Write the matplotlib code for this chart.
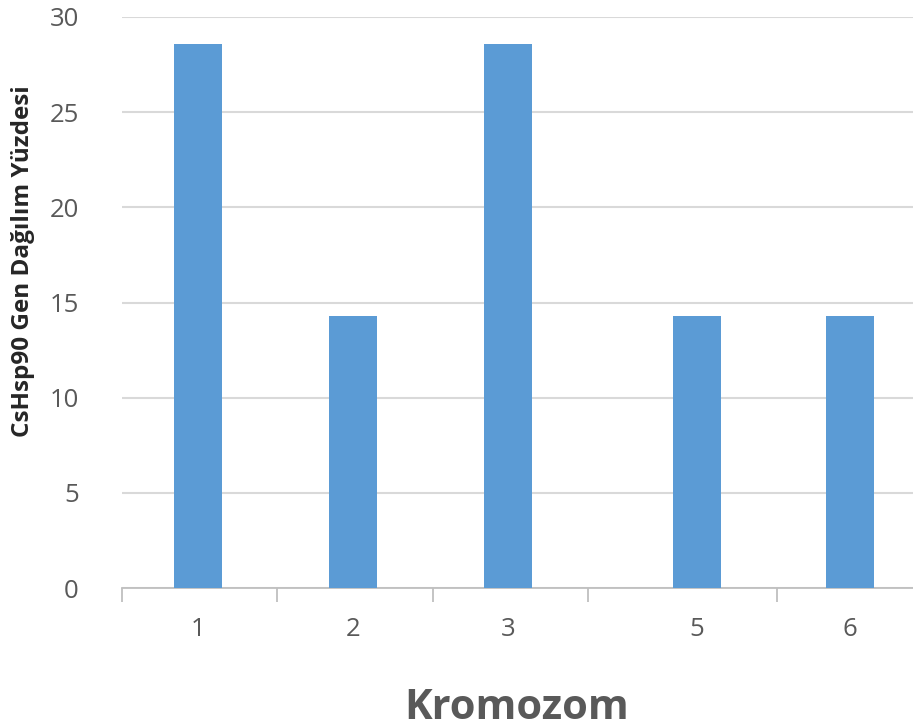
import matplotlib
matplotlib.use("Agg")
import matplotlib.pyplot as plt

# ─── Data ────────────────────────────────────────────────────────────────
chromosomes = ["1", "2", "3", "5", "6"]
percent = [28.57, 14.29, 28.57, 14.29, 14.29]
y_ticks = [0, 5, 10, 15, 20, 25, 30]

# ─── Layout (category slots as in the reference, slot 5 a bit wider) ────
x_pos = [0, 1.0, 2.0, 3.22, 4.21]
slot_edges = [-0.49, 0.51, 1.52, 2.52, 3.74]
BAR_W = 0.31

BLUE = "#5b9bd5"
GRID = "#d9d9d9"
TXT = "#595959"

plt.rcParams["font.family"] = ["Open Sans", "DejaVu Sans"]

fig = plt.figure(figsize=(9.13, 7.28), dpi=100)
ax = fig.add_axes([122 / 913, 140 / 728, (926 - 122) / 913, (588 - 17) / 728])

ax.bar(x_pos, percent, width=BAR_W, color=BLUE, zorder=3)

ax.set_ylim(0, 30)
ax.set_xlim(-0.49, 4.70)
ax.set_yticks(y_ticks)
ax.yaxis.grid(True, color=GRID, linewidth=1.5, zorder=0)
ax.tick_params(axis="y", length=0, pad=31, labelsize=18.5, labelcolor=TXT)

ax.set_xticks(x_pos)
ax.set_xticklabels(chromosomes)
ax.tick_params(axis="x", length=0, pad=21, labelsize=18.5, labelcolor=TXT)
# boundary tick marks between categories
ax.set_xticks(slot_edges, minor=True)
ax.tick_params(axis="x", which="minor", length=10, width=1.3, color="#bfbfbf")

for s in ["top", "right", "left"]:
    ax.spines[s].set_visible(False)
ax.spines["bottom"].set_color("#bfbfbf")
ax.spines["bottom"].set_linewidth(1.3)

ax.set_ylabel("CsHsp90 Gen Dağılım Yüzdesi", fontsize=17.5, fontweight="bold",
              color="#262626")
ax.yaxis.set_label_coords(-0.108, 0.572)
ax.set_xlabel("Kromozom", fontsize=30, fontweight="bold", color=TXT)
ax.xaxis.set_label_coords(0.491, -0.175)

fig.savefig("out.png", dpi=100)
